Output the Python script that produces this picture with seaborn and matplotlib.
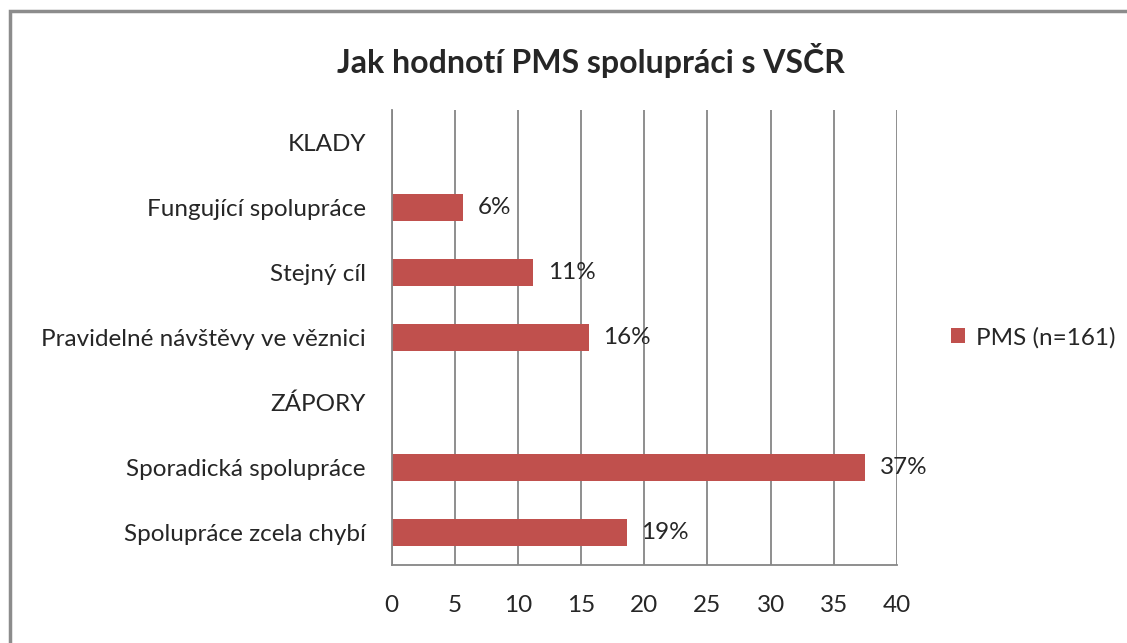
import matplotlib
matplotlib.use("Agg")
import matplotlib.pyplot as plt
import seaborn as sns
import numpy as np
from matplotlib.patches import Rectangle

categories = ["KLADY", "Fungující spolupráce", "Stejný cíl",
              "Pravidelné návštěvy ve věznici", "ZÁPORY",
              "Sporadická spolupráce", "Spolupráce zcela chybí"]
values = [np.nan, 5.65, 11.2, 15.6, np.nan, 37.5, 18.6]
value_labels = ["", "6%", "11%", "16%", "", "37%", "19%"]
series_name = "PMS (n=161)"
x_ticks = [0, 5, 10, 15, 20, 25, 30, 35, 40]

sns.set_style("white")
plt.rcParams['font.family'] = ['Lato', 'DejaVu Sans']

bar_color = "#C0504D"
grid_color = "#868686"
fs = 17.5

fig = plt.figure(figsize=(11.27, 6.43), dpi=100)
ax = fig.add_axes([0.3474, 0.1213, 0.4485, 0.7076])

sns.barplot(x=values, y=categories, color=bar_color, width=0.42,
            orient="h", ax=ax, label=series_name, saturation=1, linewidth=0)

ax.set_xlim(0, 40)
ax.set_ylim(len(categories) - 0.5, -0.5)
ax.set_xticks(x_ticks)
ax.set_xticklabels([str(t) for t in x_ticks], fontsize=fs)
ax.tick_params(axis="y", which="major", length=0, labelsize=fs, pad=18.5)
ax.set_yticks(np.arange(len(categories) + 1) - 0.5, minor=True)
ax.tick_params(axis="y", which="minor", length=6, color=grid_color, width=1.3, direction="out")
ax.tick_params(axis="x", which="major", length=6.5, color=grid_color, width=1.3, direction="out", pad=15)
ax.grid(axis="x", color=grid_color, linewidth=1.3)
ax.set_axisbelow(True)
for s in ["top", "right"]:
    ax.spines[s].set_visible(False)
for s in ["left", "bottom"]:
    ax.spines[s].set_color(grid_color)
    ax.spines[s].set_linewidth(1.3)
ax.set_xlabel("")
ax.set_ylabel("")

for patch, lab in zip(ax.patches, [l for l, v in zip(value_labels, values) if not np.isnan(v)]):
    w = patch.get_width()
    yc = patch.get_y() + patch.get_height() / 2
    ax.annotate(lab, (w, yc), xytext=(10.5, 0), textcoords="offset points",
                va="center", ha="left", fontsize=fs)

ax.legend(loc="center left", bbox_to_anchor=(1.106, 0.5), frameon=False,
          fontsize=fs, handlelength=0.6, handleheight=0.6, handletextpad=0.45,
          borderpad=0, borderaxespad=0)

fig.text(591 / 1127, 1 - 60 / 643, "Jak hodnotí PMS spolupráci s VSČR", fontsize=23,
         fontweight="bold", ha="center", va="center")

fig.patches.append(Rectangle((10 / 1127, -0.05), 1.2, 1 - 11 / 643 + 0.05,
                             transform=fig.transFigure, fill=False,
                             edgecolor="#8C8C8C", linewidth=2.5))

fig.savefig("out.png", dpi=100)
